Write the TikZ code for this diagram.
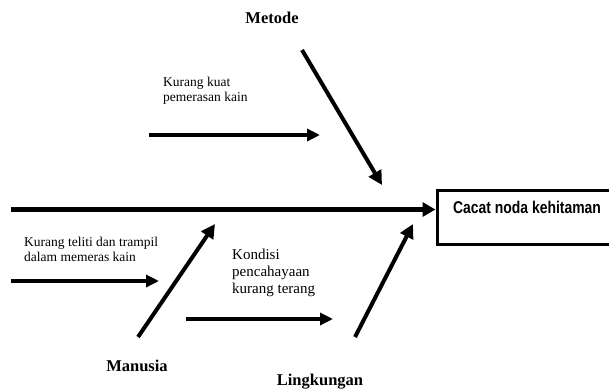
\documentclass[tikz,border=0pt]{standalone}
\usepackage{fontspec}
\setmainfont{Liberation Serif}
\newfontfamily\boxfont[FakeStretch=0.82]{Liberation Sans}
\usetikzlibrary{arrows.meta,positioning}

\begin{document}
\begin{tikzpicture}[
x=1pt,y=-1pt,
title/.style={
  anchor=base,
  inner sep=0pt,
  font=\fontsize{16.5}{19}\selectfont\bfseries
},
note/.style={
  anchor=north west,
  align=left,
  inner sep=0pt,
  font=\fontsize{13.5}{15}\selectfont
},
effectbox/.style={
  draw,
  line width=3pt,
  anchor=north west,
  minimum width=180pt,
  inner xsep=14pt,
  inner ysep=0pt,
  text height=23.5pt,
  text depth=30.5pt,
  font=\boxfont\bfseries\fontsize{17}{20}\selectfont
},
bone/.style={
  line width=4pt,
  -{Triangle[length=14pt,width=14pt]}
},
cause/.style={
  line width=4pt,
  -{Triangle[length=13pt,width=12pt]}
},
spine/.style={
  line width=5pt,
  -{Triangle[length=13pt,width=14pt]}
}
]
\useasboundingbox (0,0) rectangle (609,388);
\clip (0,0) rectangle (609,388);

% effect and spine
\node[effectbox] at (435.5,188.5)
  (effect) {Cacat noda kehitaman};
\coordinate (tail) at (11,209.5);
\draw[spine] (tail) -- (effect.west |- tail);

% main categories
\node[title] at (272,23.5) (metode) {Metode};
\node[title] at (137,371) (manusia) {Manusia};
\node[title] at (320,385) (lingkungan) {Lingkungan};

\coordinate (metodeA) at (302,50);
\coordinate (metodeB) at (382,185);
\coordinate (manusiaA) at (138,337);
\coordinate (manusiaB) at (215,224);
\coordinate (lingkA) at (355,337);
\coordinate (lingkB) at (413,224);

\draw[bone] (metodeA) -- (metodeB);
\draw[bone] (manusiaA) -- (manusiaB);
\draw[bone] (lingkA) -- (lingkB);

% causes
\node[note] at (163,76.5) (kuat)
  {Kurang kuat\\pemerasan kain};
\node[note] at (24,236.5) (teliti)
  {Kurang teliti dan trampil\\dalam memeras kain};
\node[note,font=\fontsize{15}{17}\selectfont] at (232,249) (cahaya)
  {Kondisi\\pencahayaan\\kurang terang};

\coordinate (kuatA) at (149,135);
\coordinate (kuatB) at (320,135);
\coordinate (telitiA) at (11,281);
\coordinate (telitiB) at (159,281);
\coordinate (cahayaA) at (186,319);
\coordinate (cahayaB) at (333,319);

\draw[cause] (kuatA) -- (kuatB);
\draw[cause] (telitiA) -- (telitiB);
\draw[cause] (cahayaA) -- (cahayaB);

\end{tikzpicture}
\end{document}
